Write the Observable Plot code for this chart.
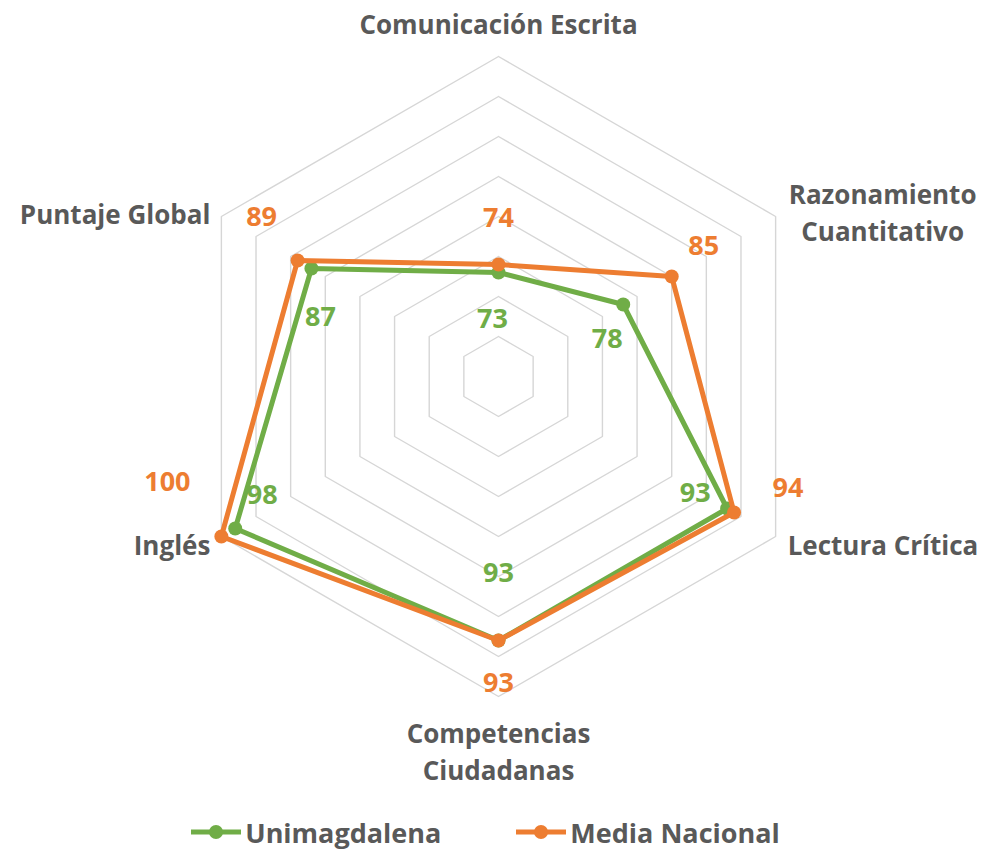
<!DOCTYPE html>
<html><head><meta charset="utf-8">
<script src="https://cdn.jsdelivr.net/npm/d3@7"></script>
<script src="https://cdn.jsdelivr.net/npm/@observablehq/plot@0.6"></script>
<style>
body{margin:0;background:#fff;font-family:"Open Sans",sans-serif}
#legend{display:flex;justify-content:center;align-items:center;height:44px;margin-left:-12px;font-weight:700;font-size:27px;color:#595959}
#legend .item{display:flex;align-items:center}
#legend .item + .item{margin-left:75px}
#legend svg{margin-right:4px}
</style>
</head><body><div id="chart"></div><div id="legend"></div><script>
// ---- data ----
const categories = ["Comunicación Escrita","Razonamiento\nCuantitativo","Lectura Crítica","Competencias\nCiudadanas","Inglés","Puntaje Global"];
const unimagdalena = [73, 78, 93, 93, 98, 87];
const mediaNacional = [74, 85, 94, 93, 100, 89];
const seriesNames = ["Unimagdalena", "Media Nacional"];
const gridTicks = [65, 70, 75, 80, 85, 90, 95, 100];
const axisMin = 60, axisMax = 100;

// ---- layout / style ----
const W = 983, H = 810, CX = 498, CY = 376, R = 320;
const colors = {"Unimagdalena": "#70AD47", "Media Nacional": "#ED7D31"};
const labelOffsets = {
  "Media Nacional": [[0,-46],[32,-30],[54,-24],[0,43],[-54,-54],[-36,-43]],
  "Unimagdalena":   [[-6,47],[-16,35],[-32,-15],[0,-67],[27,-33],[9,49]]
};
const axisLabelPos = [
  {anchor:"middle", dx:0,   dy:-35},
  {anchor:"middle", dx:107, dy:-6},
  {anchor:"start",  dx:12,  dy:6},
  {anchor:"middle", dx:0,   dy:53},
  {anchor:"end",    dx:-11, dy:6},
  {anchor:"end",    dx:-11, dy:-5}
];

const n = categories.length;
function polar(i, v) {
  const r = (v - axisMin) / (axisMax - axisMin);
  const t = i * 2 * Math.PI / n;
  return {x: r * Math.sin(t), y: r * Math.cos(t)};
}

const rings = gridTicks.flatMap(t => d3.range(n + 1).map(i => ({tick: t, ...polar(i % n, t)})));
const seriesValues = {"Unimagdalena": unimagdalena, "Media Nacional": mediaNacional};
const seriesPts = seriesNames.map(s => seriesValues[s].map((v, i) => ({series: s, i, v, ...polar(i, v)})));

const marks = [
  Plot.line(rings, {x: "x", y: "y", z: "tick", stroke: "#d6d6d6", strokeWidth: 1.4})
];
for (const pts of seriesPts) {
  const s = pts[0].series;
  marks.push(Plot.line([...pts, pts[0]], {x: "x", y: "y", stroke: colors[s], strokeWidth: 5, strokeLinejoin: "round"}));
  marks.push(Plot.dot(pts, {x: "x", y: "y", r: 7, fill: colors[s], stroke: "none"}));
}
for (const pts of seriesPts) {
  const s = pts[0].series;
  pts.forEach((p, i) => {
    marks.push(Plot.text([p], {x: "x", y: "y", text: d => String(d.v), dx: labelOffsets[s][i][0], dy: labelOffsets[s][i][1],
      fill: colors[s], fontSize: 27, fontWeight: 700, fontFamily: "Open Sans"}));
  });
}
categories.forEach((c, i) => {
  const p = {label: c, ...polar(i, axisMax)};
  const a = axisLabelPos[i];
  marks.push(Plot.text([p], {x: "x", y: "y", text: "label", dx: a.dx, dy: a.dy, textAnchor: a.anchor,
    fill: "#595959", fontSize: 26, fontWeight: 700, fontFamily: "Open Sans", lineHeight: 1.45}));
});

const chart = Plot.plot({
  width: W, height: H,
  marginLeft: 0, marginRight: 0, marginTop: 0, marginBottom: 0,
  x: {domain: [-CX / R, (W - CX) / R], axis: null},
  y: {domain: [-(H - CY) / R, CY / R], axis: null},
  style: {background: "transparent", overflow: "visible"},
  marks
});
document.getElementById("chart").append(chart);

const legend = document.getElementById("legend");
seriesNames.forEach(s => {
  const item = document.createElement("div");
  item.className = "item";
  item.innerHTML = `<svg width="50" height="16"><line x1="0" y1="8" x2="50" y2="8" stroke="${colors[s]}" stroke-width="5"/><circle cx="25" cy="8" r="7" fill="${colors[s]}"/></svg><span>${s}</span>`;
  legend.append(item);
});
</script></body></html>
